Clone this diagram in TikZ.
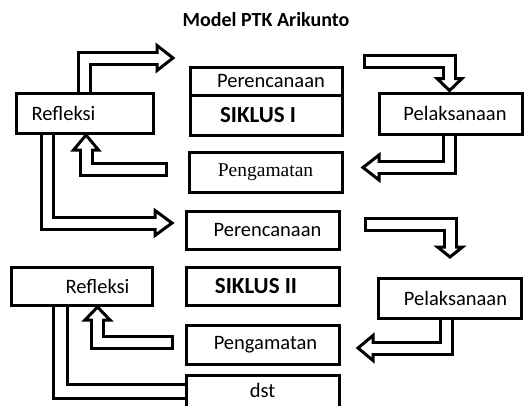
\documentclass[tikz,border=0pt]{standalone}
\usepackage{fontspec}
\setmainfont{Carlito}
\newfontfamily\timesfont{Liberation Serif}
\usetikzlibrary{calc,backgrounds}

% hollow L-shaped arrow: start, corner, head base, head angle, head length
\newcommand\blockarrow[6][]{%
  \draw[shaftout] (#2) -- (#3) -- (#4);
  \draw[headst, shift={(#4)}, rotate=#5] (0,-\HW) -- (#6,0) -- (0,\HW) -- cycle;
  \draw[shaftin, shorten >=-2pt, #1] (#2) -- (#3) -- (#4);
}

\begin{document}
\begin{tikzpicture}[x=1pt, y=-1pt,
  box/.style={draw, line width=3pt, inner sep=0pt, font=\fontsize{20.5}{24}\selectfont},
  boldbox/.style={box, font=\fontsize{23}{26}\selectfont\bfseries},
  serifbox/.style={box, font=\fontsize{19.5}{24}\selectfont\timesfont},
  title/.style={font=\fontsize{20}{23}\selectfont\bfseries},
  toright/.style={execute at begin node=\hspace*{#1pt}},
  toleft/.style={execute at end node=\hspace*{#1pt}},
  shaftout/.style={line width=15pt, line join=miter, line cap=butt},
  shaftin/.style={line width=9pt, white, line join=miter, line cap=butt},
  headst/.style={draw, fill=white, line width=3pt, line join=miter},
]

\def\HW{12.5}   % half width of an arrow head
\useasboundingbox (0,0) rectangle (526,405);

\node[title] (title) at (266,20) {Model PTK Arikunto};

% siklus I
\node[box, minimum width=137pt, minimum height=40pt, toleft=42] (ref1) at (84.5,113) {Refleksi};
\node[box, minimum width=152pt, minimum height=28pt, toright=10] (per1) at (266,81) {Perencanaan};
\node[boldbox, minimum width=152pt, minimum height=40pt, toleft=16] (sik1) at (266,115) {SIKLUS I};
\node[box, minimum width=143pt, minimum height=41pt, toright=9] (pel1) at (450.5,113.5) {Pelaksanaan};
\node[serifbox, minimum width=153pt, minimum height=40pt] (png1) at (265.5,172) {Pengamatan};

% siklus II
\node[box, minimum width=153pt, minimum height=38pt, toright=10] (per2) at (262.5,230) {Perencanaan};
\node[box, minimum width=141pt, minimum height=38pt, toright=32] (ref2) at (81.5,286) {Refleksi};
\node[boldbox, minimum width=153pt, minimum height=38pt, toleft=13] (sik2) at (262.5,286) {SIKLUS II};
\node[box, minimum width=143pt, minimum height=40pt, toright=12] (pel2) at (449.5,298) {Pelaksanaan};
\node[box, minimum width=153pt, minimum height=39pt, toright=6] (png2) at (262.5,344.5) {Pengamatan};
\node[box, minimum width=153pt, minimum height=43pt, text depth=13pt] (dst) at (262.5,396.5) {dst};

\begin{scope}[on background layer]
  % siklus I
  \coordinate (a1c) at (ref1.north |- 0,58);
  \coordinate (a1b) at (157,58);
  \blockarrow{ref1.north}{a1c}{a1b}{0}{16}
  \coordinate (a2s) at (363,61);
  \coordinate (a2c) at (449.5,61);
  \coordinate (a2b) at ($(a2c |- pel1.north)+(0,-13)$);
  \blockarrow[shorten <=3pt]{a2s}{a2c}{a2b}{-90}{12}
  \coordinate (a3s) at (449.5,0 |- pel1.south);
  \coordinate (a3c) at (449.5,167.5);
  \coordinate (a3b) at (379,167.5);
  \blockarrow{a3s}{a3c}{a3b}{180}{16}
  \coordinate (a4s) at (168,169);
  \coordinate (a4c) at (86,169);
  \coordinate (a4b) at (86,150);
  \blockarrow[shorten <=3pt]{a4s}{a4c}{a4b}{90}{15}
  % siklus II
  \coordinate (a5s) at (47,0 |- ref1.south);
  \coordinate (a5c) at (47,223);
  \coordinate (a5b) at (155,223);
  \blockarrow{a5s}{a5c}{a5b}{0}{17}
  \coordinate (a6s) at (364,224);
  \coordinate (a6c) at (450,224);
  \coordinate (a6b) at (450,247);
  \blockarrow[shorten <=3pt]{a6s}{a6c}{a6b}{-90}{10}
  \coordinate (a7s) at (446,0 |- pel2.south);
  \coordinate (a7c) at (446,348);
  \coordinate (a7b) at (373,348);
  \blockarrow{a7s}{a7c}{a7b}{180}{15}
  \coordinate (a8s) at (174,342);
  \coordinate (a8c) at (97.5,342);
  \coordinate (a8b) at (97.5,320);
  \blockarrow[shorten <=3pt]{a8s}{a8c}{a8b}{90}{13}
  % on to the next cycle
  \coordinate (a9s) at (60,0 |- ref2.south);
  \coordinate (a9c) at (60,391);
  \coordinate (a9e) at (dst.west |- 0,391);
  \draw[shaftout, line width=17pt] (a9s) -- (a9c) -- (a9e);
  \draw[shaftin, line width=11pt] (a9s) -- (a9c) -- (a9e);
\end{scope}

\end{tikzpicture}
\end{document}
